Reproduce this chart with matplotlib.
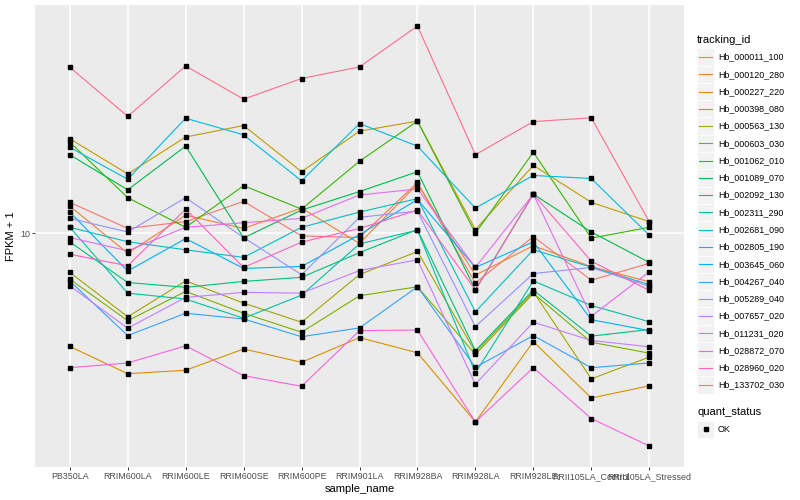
import matplotlib
matplotlib.use("Agg")
import numpy as np
import matplotlib.pyplot as plt
from matplotlib.patches import Rectangle
from matplotlib.ticker import NullLocator

plt.rcParams['font.family'] = ['Liberation Sans', 'DejaVu Sans']

samples = ["PB350LA", "RRIM600LA", "RRIM600LE", "RRIM600SE", "RRIM600PE", "RRIM901LA",
           "RRIM928BA", "RRIM928LA", "RRIM928LE", "RRII105LA_Control", "RRII105LA_Stressed"]

# FPKM + 1, one value per sample
hb_000011_100 = [12.9, 10.4, 11.0, 13.0, 9.78, 9.65, 15.2, 6.63, 9.72, 6.79, 7.80]
hb_000120_280 = [12.5, 8.48, 11.6, 10.4, 12.3, 9.19, 15.0, 7.08, 9.02, 7.59, 6.70]
hb_000227_220 = [3.93, 3.14, 3.23, 3.85, 3.45, 4.23, 3.73, 2.11, 4.09, 2.57, 2.84]
hb_000398_080 = [21.8, 16.3, 22.1, 24.3, 16.6, 23.2, 25.2, 10.3, 17.5, 12.9, 11.0]
hb_000563_130 = [7.24, 5.02, 6.75, 5.62, 4.80, 7.11, 8.60, 3.75, 6.17, 3.01, 3.60]
hb_000603_030 = [6.85, 4.86, 6.19, 5.17, 4.42, 5.97, 6.43, 3.68, 6.09, 4.07, 3.72]
hb_001062_010 = [21.2, 13.4, 10.5, 14.8, 12.2, 18.1, 25.2, 10.0, 19.5, 9.60, 10.5]
hb_001089_070 = [19.1, 14.3, 20.5, 9.62, 12.1, 14.1, 16.6, 6.26, 13.8, 10.1, 7.86]
hb_002092_130 = [9.31, 6.66, 6.40, 6.72, 6.95, 8.52, 10.3, 3.80, 6.26, 4.28, 4.52]
hb_002311_290 = [10.5, 6.10, 5.81, 4.96, 6.00, 9.16, 10.25, 3.16, 6.75, 5.51, 4.82]
hb_002681_090 = [10.5, 9.32, 8.72, 8.19, 10.5, 11.9, 13.3, 5.23, 8.72, 7.56, 6.55]
hb_002805_190 = [20.3, 15.6, 25.8, 22.5, 15.4, 24.7, 20.5, 12.3, 16.1, 15.7, 9.84]
hb_003645_060 = [11.9, 7.32, 9.57, 7.48, 7.60, 9.88, 13.2, 7.54, 9.31, 4.90, 4.48]
hb_004267_040 = [6.74, 4.30, 5.17, 4.93, 4.26, 4.58, 6.43, 3.31, 4.30, 3.30, 3.43]
hb_005289_040 = [11.3, 10.1, 13.4, 9.65, 7.10, 11.4, 12.0, 4.63, 7.17, 7.54, 6.45]
hb_007657_020 = [6.48, 4.57, 5.89, 6.14, 6.10, 7.35, 8.03, 2.88, 4.80, 4.13, 3.92]
hb_011231_020 = [9.65, 8.65, 10.5, 10.9, 11.3, 13.7, 14.4, 7.54, 13.8, 5.04, 7.27]
hb_028872_070 = [3.30, 3.43, 3.95, 3.09, 2.83, 4.48, 4.50, 2.11, 3.30, 2.17, 1.73]
hb_028960_020 = [8.41, 7.64, 12.2, 7.54, 9.29, 10.4, 12.1, 6.26, 13.8, 7.94, 6.24]
hb_133702_030 = [39.3, 26.2, 39.7, 30.2, 35.8, 39.4, 55.2, 19.1, 25.1, 25.9, 11.0]

tracking_ids = ["Hb_000011_100", "Hb_000120_280", "Hb_000227_220", "Hb_000398_080",
                "Hb_000563_130", "Hb_000603_030", "Hb_001062_010", "Hb_001089_070",
                "Hb_002092_130", "Hb_002311_290", "Hb_002681_090", "Hb_002805_190",
                "Hb_003645_060", "Hb_004267_040", "Hb_005289_040", "Hb_007657_020",
                "Hb_011231_020", "Hb_028872_070", "Hb_028960_020", "Hb_133702_030"]
series = [hb_000011_100, hb_000120_280, hb_000227_220, hb_000398_080, hb_000563_130,
          hb_000603_030, hb_001062_010, hb_001089_070, hb_002092_130, hb_002311_290,
          hb_002681_090, hb_002805_190, hb_003645_060, hb_004267_040, hb_005289_040,
          hb_007657_020, hb_011231_020, hb_028872_070, hb_028960_020, hb_133702_030]

# ggplot hue palette for 20 levels
colors = ["#F8766D", "#EA8331", "#D89000", "#C09B00", "#A3A500", "#7CAE00", "#39B600",
          "#00BB4E", "#00BF7D", "#00C1A3", "#00BFC4", "#00BAE0", "#00B0F6", "#35A2FF",
          "#9590FF", "#C77CFF", "#E76BF3", "#FA62DB", "#FF62BC", "#FF6C90"]

W, H = 800, 500
fig = plt.figure(figsize=(W / 100, H / 100), dpi=100)
ax = fig.add_axes([35 / W, 1 - 467 / H, (684 - 35) / W, (467 - 5) / H])
ax.set_facecolor("#EBEBEB")
for s in ax.spines.values():
    s.set_visible(False)

x = np.arange(len(samples))
for vals, c in zip(series, colors):
    ax.plot(x, vals, color=c, lw=0.8, zorder=2)
for vals in series:
    ax.plot(x, vals, ls="none", marker="s", ms=2.6, color="black", zorder=3)

ax.set_yscale("log")
allv = np.concatenate([np.asarray(v) for v in series])
lo, hi = np.log10(allv.min()), np.log10(allv.max())
pad = 0.05 * (hi - lo)
ax.set_ylim(10 ** (lo - pad), 10 ** (hi + pad))
ax.set_xlim(-0.6, len(samples) - 0.4)
ax.set_yticks([10])
ax.set_yticklabels(["10"])
ax.yaxis.set_minor_locator(NullLocator())
ax.set_xticks(x)
ax.set_xticklabels(samples)

ax.grid(True, color="white", lw=1.1)
ax.set_axisbelow(True)
ax.tick_params(colors="#333333", length=2.2, width=0.7, labelsize=6.4,
               labelcolor="#4D4D4D", pad=1.5)
ax.set_xlabel("sample_name", fontsize=8, labelpad=2)
ax.set_ylabel("FPKM + 1", fontsize=8, labelpad=3)

# legend drawn in pixel space, ggplot style
lg = fig.add_axes([0, 0, 1, 1])
lg.set_xlim(0, W)
lg.set_ylim(H, 0)
lg.axis("off")
lg.text(697, 40, "tracking_id", fontsize=8, va="center", ha="left")
step = 17.27
for i, (name, c) in enumerate(zip(tracking_ids, colors)):
    yc = 57 + i * step
    lg.add_patch(Rectangle((697, yc - step / 2), 17.3, step, facecolor="#F2F2F2",
                           edgecolor="white", lw=0.6))
    lg.plot([699, 712], [yc, yc], color=c, lw=0.8)
    lg.text(718, yc, name, fontsize=6.4, va="center", ha="left")

lg.text(697, 412, "quant_status", fontsize=8, va="center", ha="left")
lg.add_patch(Rectangle((697, 429.3 - step / 2), 17.3, step, facecolor="#F2F2F2",
                       edgecolor="white", lw=0.6))
lg.plot([705.6], [429.3], marker="s", ms=2.6, color="black")
lg.text(718, 429.3, "OK", fontsize=6.4, va="center", ha="left")

fig.savefig("out.png", dpi=100, facecolor="white")
